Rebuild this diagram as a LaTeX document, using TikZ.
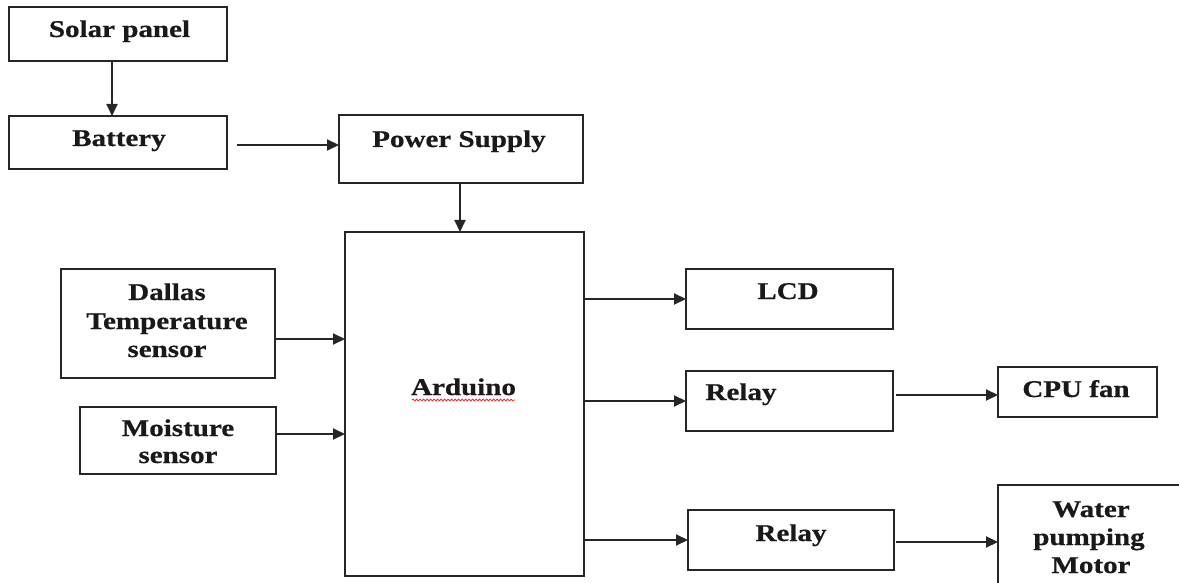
\documentclass[tikz,border=0pt]{standalone}
\usepackage{fontspec}
\setmainfont[FakeStretch=1.21,FakeBold=0.6]{Liberation Serif}
\usetikzlibrary{arrows.meta,decorations.pathmorphing}
\begin{document}
\begin{tikzpicture}[x=1pt,y=-1pt,
  box/.style={draw=black!85,line width=2.1pt,rectangle,inner sep=0pt,outer sep=0pt},
  txt/.style={anchor=base,inner sep=0pt,text=black!90,font=\fontsize{24}{28}\selectfont\bfseries},
  arr/.style={draw=black!85,line width=2pt,-{Triangle[length=12pt,width=11pt]}}]
\useasboundingbox (0,0) rectangle (1179,583);
\clip (0,0) rectangle (1179,583);
% boxes
\node[box,minimum width=218pt,minimum height=54pt] (sp) at (118,34) {};
\node[box,minimum width=218pt,minimum height=53pt] (bat) at (118,142.5) {};
\node[box,minimum width=244pt,minimum height=68pt] (ps) at (461,149) {};
\node[box,minimum width=239pt,minimum height=344pt] (ard) at (464.5,404) {};
\node[box,minimum width=214pt,minimum height=109pt] (dal) at (168,323.5) {};
\node[box,minimum width=196pt,minimum height=67pt] (moi) at (178,440.5) {};
\node[box,minimum width=207pt,minimum height=60pt] (lcd) at (789.5,299) {};
\node[box,minimum width=207pt,minimum height=60pt] (rl1) at (789.5,401) {};
\node[box,minimum width=159pt,minimum height=50pt] (cpu) at (1077.5,392) {};
\node[box,minimum width=206pt,minimum height=60pt] (rl2) at (791,540) {};
\node[box,minimum width=240pt,minimum height=160pt] (mot) at (1118,565) {};
% texts
\node[txt] (tsp) at (119.5,37) {Solar panel};
\node[txt] (tbat) at (119,146) {Battery};
\node[txt] (tps) at (459,147) {Power Supply};
\node[txt] (tard) at (463.5,395) {Arduino};
\node[txt] (td1) at (167,300) {Dallas};
\node[txt] (td2) at (167,329) {Temperature};
\node[txt] (td3) at (167,357) {sensor};
\node[txt] (tm1) at (178,436) {Moisture};
\node[txt] (tm2) at (178,463) {sensor};
\node[txt] (tlcd) at (788,299) {LCD};
\node[txt] (tr1) at (741,400) {Relay};
\node[txt] (tcpu) at (1076,397) {CPU fan};
\node[txt] (tr2) at (791,541) {Relay};
\node[txt] (tw1) at (1091,517) {Water};
\node[txt] (tw2) at (1089,545) {pumping};
\node[txt] (tw3) at (1091,573) {Motor};
% spell-check squiggle
\draw[red!85,line width=0.8pt,decorate,decoration={snake,amplitude=0.9pt,segment length=3.5pt}] (412,400) -- (515,400);
% connectors
\draw[arr] ([xshift=-6pt]sp.south) -- ([xshift=-6pt]bat.north);
\coordinate (b1) at ([xshift=10pt,yshift=-2.5pt]bat.east);
\draw[arr] (b1) -- (b1 -| ps.west);
\coordinate (p1) at ([xshift=-1pt]ps.south);
\draw[arr] (p1) -- (p1 |- ard.north);
\coordinate (d1) at ([yshift=-15.5pt]dal.east);
\draw[arr] (d1) -- (d1 -| ard.west);
\coordinate (m1) at ([yshift=6.5pt]moi.east);
\draw[arr] (m1) -- (m1 -| ard.west);
\draw[arr] (ard.east |- lcd.west) -- (lcd.west);
\draw[arr] (ard.east |- rl1.west) -- (rl1.west);
\draw[arr] (ard.east |- rl2.west) -- (rl2.west);
\coordinate (r1e) at ([xshift=3pt,yshift=6pt]rl1.east);
\draw[arr] (r1e) -- (r1e -| cpu.west);
\coordinate (r2e) at ([xshift=2pt,yshift=-2pt]rl2.east);
\draw[arr] (r2e) -- (r2e -| mot.west);
\end{tikzpicture}
\end{document}
